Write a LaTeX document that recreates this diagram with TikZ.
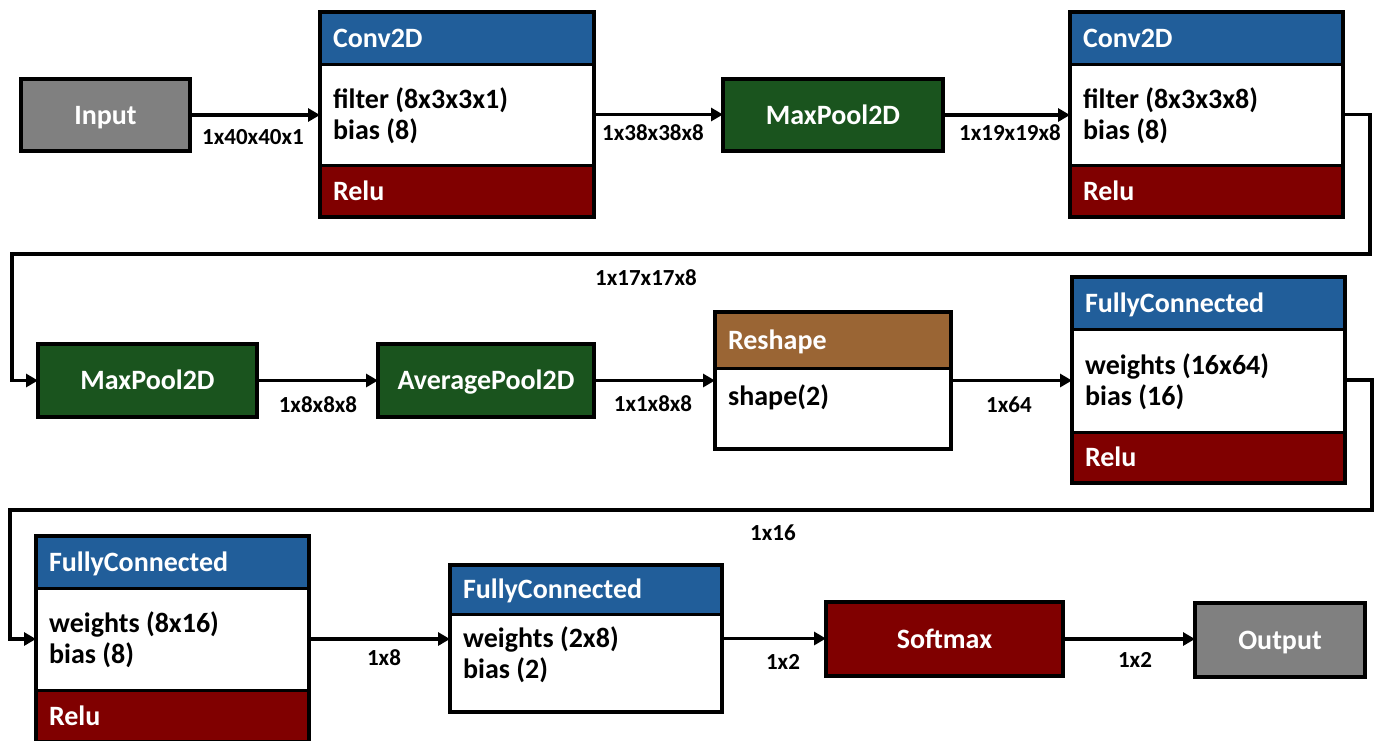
\documentclass[tikz,border=0pt]{standalone}
\usepackage{fontspec}
\usetikzlibrary{arrows.meta,calc}
\newfontfamily\carl{Carlito}
\newcommand\nfont{\carl\bfseries\fontsize{28}{31}\selectfont}
\newcommand\lfont{\carl\bfseries\fontsize{23}{26}\selectfont}
\definecolor{hblue}{RGB}{33,94,154}
\definecolor{actred}{RGB}{128,0,0}
\definecolor{poolgreen}{RGB}{26,84,30}
\definecolor{rsbrown}{RGB}{154,101,52}
\definecolor{iogray}{RGB}{128,128,128}
\tikzset{
  base/.style={draw=black, line width=3pt, inner sep=0pt, outer sep=0pt, anchor=north west},
  single/.style={base, line width=4pt, text=white, font=\nfont, align=center, text height=18pt, text depth=0pt},
  part/.style={base, text=white, font=\nfont, align=left, inner xsep=13pt, text height=18pt, text depth=0pt},
  hdr/.style={part, fill=hblue},
  rshdr/.style={part, fill=rsbrown},
  act/.style={part, fill=actred},
  bodyp/.style={base, fill=white},
  bodytxt/.style={font=\nfont, text=black, align=left, inner sep=0pt, anchor=west},
  outerbox/.style={draw=black, line width=4pt, inner sep=0pt, outer sep=0pt, anchor=north west},
  lbl/.style={font=\lfont, text=black, inner sep=0pt},
  arr/.style={line width=3.5pt, -{Triangle[length=12pt,width=13pt]}},
}
\begin{document}
\begin{tikzpicture}[x=1pt,y=-1pt]
\useasboundingbox (0,0) rectangle (1376,740);
\clip (0,0) rectangle (1376,740);

% Row 1
\node[single, fill=iogray, minimum width=169pt, minimum height=72pt] (in) at (21,79) {Input};

\node[hdr, text width=248pt, minimum height=52pt] (c1h) at (320,12) {Conv2D};
\node[bodyp, minimum width=274pt, minimum height=101pt] (c1b) at (320,64) {};
\node[act, text width=248pt, minimum height=52pt] (c1r) at (320,165) {Relu};
\node[outerbox, minimum width=274pt, minimum height=205pt] (c1) at (320,12) {};
\node[bodytxt] (c1t) at ($(c1b.west)+(13,1)$) {filter (8x3x3x1)\\bias (8)};

\node[single, fill=poolgreen, minimum width=220pt, minimum height=72pt] (mp1) at (723,79) {MaxPool2D};

\node[hdr, text width=247pt, minimum height=52pt] (c2h) at (1070,12) {Conv2D};
\node[bodyp, minimum width=273pt, minimum height=101pt] (c2b) at (1070,64) {};
\node[act, text width=247pt, minimum height=52pt] (c2r) at (1070,165) {Relu};
\node[outerbox, minimum width=273pt, minimum height=205pt] (c2) at (1070,12) {};
\node[bodytxt] (c2t) at ($(c2b.west)+(13,1)$) {filter (8x3x3x8)\\bias (8)};

% Row 2
\node[single, fill=poolgreen, minimum width=219pt, minimum height=73pt] (mp2) at (38,344) {MaxPool2D};
\node[single, fill=poolgreen, minimum width=216pt, minimum height=73pt] (ap) at (378,344) {AveragePool2D};

\node[rshdr, text width=210pt, minimum height=56pt] (rsh) at (715,312) {Reshape};
\node[bodyp, minimum width=236pt, minimum height=81pt] (rsb) at (715,368) {};
\node[outerbox, minimum width=236pt, minimum height=137pt] (rs) at (715,312) {};
\node[bodytxt, anchor=north west] (rst) at ($(rsb.north west)+(13,17)$) {shape(2)};

\node[hdr, text width=247pt, minimum height=52pt] (f1h) at (1072,277) {FullyConnected};
\node[bodyp, minimum width=273pt, minimum height=103pt] (f1b) at (1072,329) {};
\node[act, text width=247pt, minimum height=51pt] (f1r) at (1072,432) {Relu};
\node[outerbox, minimum width=273pt, minimum height=206pt] (f1) at (1072,277) {};
\node[bodytxt] (f1t) at ($(f1b.west)+(13,1)$) {weights (16x64)\\bias (16)};

% Row 3
\node[hdr, text width=247pt, minimum height=52pt] (f2h) at (36,536) {FullyConnected};
\node[bodyp, minimum width=273pt, minimum height=102pt] (f2b) at (36,588) {};
\node[act, text width=247pt, minimum height=52pt] (f2r) at (36,690) {Relu};
\node[outerbox, minimum width=273pt, minimum height=206pt] (f2) at (36,536) {};
\node[bodytxt] (f2t) at ($(f2b.west)+(13,1)$) {weights (8x16)\\bias (8)};

\node[hdr, text width=246pt, minimum height=49pt] (f3h) at (450,565) {FullyConnected};
\node[bodyp, minimum width=272pt, minimum height=98pt] (f3b) at (450,614) {};
\node[outerbox, minimum width=272pt, minimum height=147pt] (f3) at (450,565) {};
\node[bodytxt] (f3t) at ($(f3b.west)+(13,-8)$) {weights (2x8)\\bias (2)};

\node[single, fill=actred, minimum width=237pt, minimum height=74pt] (sm) at (826,602) {Softmax};
\node[single, fill=iogray, minimum width=170pt, minimum height=74pt] (out) at (1195,603) {Output};

% Connectors
\coordinate (k1) at (1370,254);
\coordinate (k2) at (12,254);
\coordinate (k3) at (1372,510);
\coordinate (k4) at (10,510);

\draw[arr] (in.east) -- (in.east -| c1.west);
\draw[arr] (c1.east) -- (c1.east -| mp1.west);
\draw[arr] (mp1.east) -- (mp1.east -| c2.west);
\draw[arr] (c2.east) -| (k1) -- (k2) |- (mp2.west);
\draw[arr] (mp2.east) -- (ap.west);
\draw[arr] (ap.east) -- (ap.east -| rs.west);
\draw[arr] (rs.east) -- (rs.east -| f1.west);
\draw[arr] (f1.east) -| (k3) -- (k4) |- (f2.west);
\draw[arr] (f2.east) -- (f2.east -| f3.west);
\draw[arr] (f3.east) -- (f3.east -| sm.west);
\draw[arr] (sm.east) -- (sm.east -| out.west);

% Labels
\node[lbl] (l1) at (253,137) {1x40x40x1};
\node[lbl] (l2) at (653,133) {1x38x38x8};
\node[lbl] (l3) at (1010,133) {1x19x19x8};
\node[lbl] (l4) at (646,278) {1x17x17x8};
\node[lbl] (l5) at (318,405) {1x8x8x8};
\node[lbl] (l6) at (653,404) {1x1x8x8};
\node[lbl] (l7) at (1009,405) {1x64};
\node[lbl] (l8) at (773,533) {1x16};
\node[lbl] (l9) at (384,658) {1x8};
\node[lbl] (l10) at (783,662) {1x2};
\node[lbl] (l11) at (1135,660) {1x2};
\end{tikzpicture}
\end{document}
